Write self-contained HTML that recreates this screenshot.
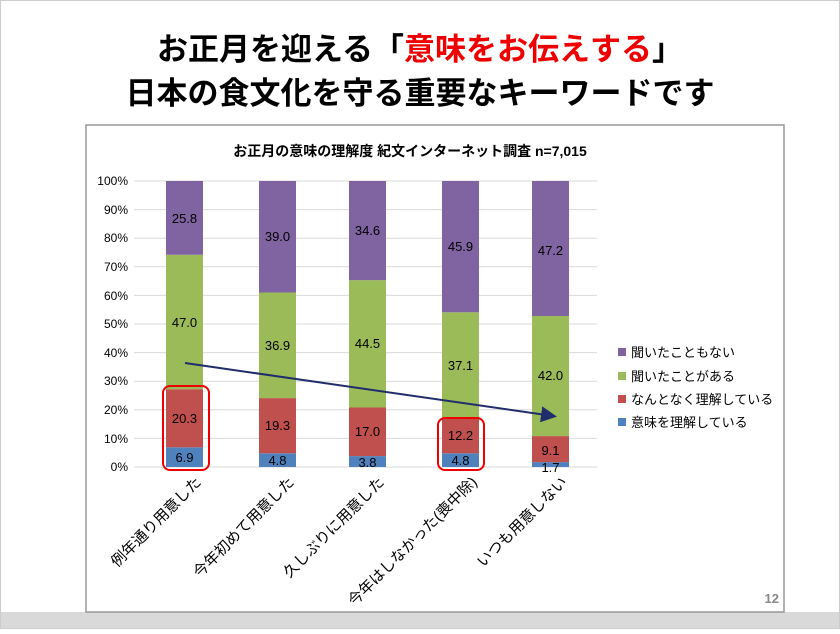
<!DOCTYPE html>
<html><head><meta charset="utf-8"><style>
body{margin:0;width:840px;height:629px;background:#fff;overflow:hidden;font-family:"Liberation Sans","Noto Sans CJK JP",sans-serif}
</style></head><body>
<svg width="840" height="629" xmlns="http://www.w3.org/2000/svg" font-family="Liberation Sans, Noto Sans CJK JP, sans-serif">
<rect x="0" y="0" width="840" height="629" fill="#fff"/>
<rect x="0" y="612" width="840" height="17" fill="#d9d9d9"/>
<rect x="0.5" y="0.5" width="839" height="628" fill="none" stroke="#ccc"/>
<text x="420" y="60" text-anchor="middle" font-size="31" font-weight="bold" fill="#000">お正月を迎える「<tspan fill="#e00">意味をお伝えする</tspan>」</text>
<text x="420" y="104" text-anchor="middle" font-size="31" font-weight="bold" fill="#000">日本の食文化を守る重要なキーワードです</text>
<rect x="86" y="125" width="698" height="487" fill="#fff" stroke="#999" stroke-width="1.5"/>
<text x="410" y="156" text-anchor="middle" font-size="14" font-weight="bold">お正月の意味の理解度  紀文インターネット調査 n=7,015</text>
<g font-size="12" fill="#000" text-anchor="end">
<text x="128" y="471">0%</text><text x="128" y="443">10%</text><text x="128" y="414">20%</text><text x="128" y="385">30%</text><text x="128" y="357">40%</text><text x="128" y="328">50%</text><text x="128" y="300">60%</text><text x="128" y="271">70%</text><text x="128" y="242">80%</text><text x="128" y="214">90%</text><text x="128" y="185">100%</text>
</g>
<g stroke="#d9d9d9"><line x1="134" x2="597" y1="467" y2="467"/><line x1="134" x2="597" y1="438.4" y2="438.4"/><line x1="134" x2="597" y1="409.8" y2="409.8"/><line x1="134" x2="597" y1="381.2" y2="381.2"/><line x1="134" x2="597" y1="352.6" y2="352.6"/><line x1="134" x2="597" y1="324" y2="324"/><line x1="134" x2="597" y1="295.4" y2="295.4"/><line x1="134" x2="597" y1="266.8" y2="266.8"/><line x1="134" x2="597" y1="238.2" y2="238.2"/><line x1="134" x2="597" y1="209.6" y2="209.6"/><line x1="134" x2="597" y1="181" y2="181"/></g>
<g font-size="13" text-anchor="middle">
<rect x="166" y="447.3" width="37" height="19.7" fill="#4f81bd"/><rect x="166" y="389.2" width="37" height="58.1" fill="#c0504d"/><rect x="166" y="254.8" width="37" height="134.4" fill="#9bbb59"/><rect x="166" y="181" width="37" height="73.8" fill="#8064a2"/>
<text x="184.5" y="462">6.9</text><text x="184.5" y="423">20.3</text><text x="184.5" y="327">47.0</text><text x="184.5" y="223">25.8</text>
<rect x="259" y="453.3" width="37" height="13.7" fill="#4f81bd"/><rect x="259" y="398.1" width="37" height="55.2" fill="#c0504d"/><rect x="259" y="292.5" width="37" height="105.6" fill="#9bbb59"/><rect x="259" y="181" width="37" height="111.5" fill="#8064a2"/>
<text x="277.5" y="465">4.8</text><text x="277.5" y="430">19.3</text><text x="277.5" y="350">36.9</text><text x="277.5" y="241">39.0</text>
<rect x="349" y="456.1" width="37" height="10.9" fill="#4f81bd"/><rect x="349" y="407.5" width="37" height="48.6" fill="#c0504d"/><rect x="349" y="280.2" width="37" height="127.3" fill="#9bbb59"/><rect x="349" y="181" width="37" height="99.2" fill="#8064a2"/>
<text x="367.5" y="467">3.8</text><text x="367.5" y="436">17.0</text><text x="367.5" y="348">44.5</text><text x="367.5" y="235">34.6</text>
<rect x="442" y="453.3" width="37" height="13.7" fill="#4f81bd"/><rect x="442" y="418.4" width="37" height="34.9" fill="#c0504d"/><rect x="442" y="312.3" width="37" height="106.1" fill="#9bbb59"/><rect x="442" y="181" width="37" height="131.3" fill="#8064a2"/>
<text x="460.5" y="465">4.8</text><text x="460.5" y="440">12.2</text><text x="460.5" y="370">37.1</text><text x="460.5" y="251">45.9</text>
<rect x="532" y="462.1" width="37" height="4.9" fill="#4f81bd"/><rect x="532" y="436.1" width="37" height="26" fill="#c0504d"/><rect x="532" y="316" width="37" height="120.1" fill="#9bbb59"/><rect x="532" y="181" width="37" height="135" fill="#8064a2"/>
<text x="550.5" y="472">1.7</text><text x="550.5" y="455">9.1</text><text x="550.5" y="380">42.0</text><text x="550.5" y="255">47.2</text>
</g>
<rect x="163" y="386" width="46" height="84" rx="7" fill="none" stroke="#e00" stroke-width="2"/>
<rect x="438" y="418" width="46" height="52" rx="7" fill="none" stroke="#e00" stroke-width="2"/>
<defs><marker id="ah" markerWidth="8" markerHeight="8" refX="6" refY="4" orient="auto"><path d="M0,0 L8,4 L0,8 z" fill="#1f2d6b"/></marker></defs>
<line x1="185" y1="363" x2="553" y2="416" stroke="#1f2d6b" stroke-width="2" marker-end="url(#ah)"/>
<g font-size="15" text-anchor="end">
<text transform="translate(202,483) rotate(-45)">例年通り用意した</text>
<text transform="translate(295,483) rotate(-45)">今年初めて用意した</text>
<text transform="translate(385,483) rotate(-45)">久しぶりに用意した</text>
<text transform="translate(478,483) rotate(-45)">今年はしなかった(喪中除)</text>
<text transform="translate(568,483) rotate(-45)">いつも用意しない</text>
</g>
<g font-size="13">
<rect x="618" y="348" width="8" height="8" fill="#8064a2"/><text x="631" y="357">聞いたこともない</text>
<rect x="618" y="372" width="8" height="8" fill="#9bbb59"/><text x="631" y="381">聞いたことがある</text>
<rect x="618" y="395" width="8" height="8" fill="#c0504d"/><text x="631" y="404">なんとなく理解している</text>
<rect x="618" y="418" width="8" height="8" fill="#4f81bd"/><text x="631" y="427">意味を理解している</text>
</g>
<text x="779" y="603" text-anchor="end" font-size="13" font-weight="bold" fill="#888">12</text>
</svg>
</body></html>
